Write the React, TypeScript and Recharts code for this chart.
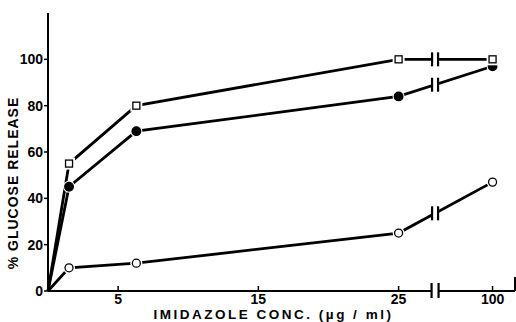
import React from "react";
import { LineChart, Line, XAxis, YAxis, ReferenceDot, ReferenceLine, Label } from "recharts";

// imidazole concentration (ug/ml) and % glucose release per series
const concentrations = [0, 1.5, 6.3, 25, 100];
const squareRelease = [0, 55, 80, 100, 100];
const filledRelease = [0, 45, 69, 84, 97];
const openRelease = [0, 10, 12, 25, 47];

const xTicks = [5, 15, 25, 100];
const yTicks = [0, 20, 40, 60, 80, 100];

// broken axis: 0-25 linear, then 100 placed after the break
const POS_100 = 31.7;
const BREAK_POS = 27.6;
const X_MAX = 33.3;
const xPos = (c: number) => (c <= 25 ? c : POS_100);

const FONT = "'Liberation Sans', Arial, sans-serif";

const data = concentrations.map((c, i) => ({
  pos: xPos(c),
  square: squareRelease[i],
  filled: filledRelease[i],
  open: openRelease[i],
}));

const atBreak = (arr: number[]) => {
  const n = arr.length;
  const x0 = xPos(concentrations[n - 2]);
  const x1 = xPos(concentrations[n - 1]);
  const t = (BREAK_POS - x0) / (x1 - x0);
  return arr[n - 2] + t * (arr[n - 1] - arr[n - 2]);
};

const makeDot = (kind: "square" | "filled" | "open") => (props: any) => {
  const { cx, cy, index } = props;
  if (index === 0 || cx == null) return <g key={`${kind}-${index}`} />;
  if (kind === "square") {
    return (
      <g key={`${kind}-${index}`}>
        <rect x={cx - 6} y={cy - 6} width={12} height={12} fill="#fff" />
        <rect x={cx - 3.5} y={cy - 3.5} width={7} height={7} fill="#fff" stroke="#000" strokeWidth={1.3} />
      </g>
    );
  }
  return (
    <g key={`${kind}-${index}`}>
      <circle cx={cx} cy={cy} r={6} fill="#fff" />
      <circle
        cx={cx}
        cy={cy}
        r={kind === "filled" ? 4.3 : 4}
        fill={kind === "filled" ? "#000" : "#fff"}
        stroke="#000"
        strokeWidth={1.3}
      />
    </g>
  );
};

const LineBreak = (props: any) => {
  const { cx, cy } = props;
  return (
    <g>
      <rect x={cx - 4} y={cy - 9} width={8} height={18} fill="#fff" />
      <line x1={cx - 3} x2={cx - 3} y1={cy - 7} y2={cy + 7} stroke="#000" strokeWidth={2.2} />
      <line x1={cx + 3} x2={cx + 3} y1={cy - 7} y2={cy + 7} stroke="#000" strokeWidth={2.2} />
    </g>
  );
};

const AxisBreak = (props: any) => {
  const { cx, cy } = props;
  return (
    <g>
      <rect x={cx - 3} y={cy - 3} width={6} height={6} fill="#fff" />
      <line x1={cx - 3.5} x2={cx - 3.5} y1={cy - 8} y2={cy + 7} stroke="#000" strokeWidth={2.2} />
      <line x1={cx + 3.5} x2={cx + 3.5} y1={cy - 8} y2={cy + 7} stroke="#000" strokeWidth={2.2} />
    </g>
  );
};

const XTick = (props: any) => {
  const { x, y, payload } = props;
  return (
    <g>
      <line x1={x} x2={x} y1={y} y2={y - 5} stroke="#000" strokeWidth={1.5} />
      <text x={x} y={y + 13} textAnchor="middle" fontFamily={FONT} fontWeight="bold" fontSize={14} fill="#000">
        {payload.value === POS_100 ? "100" : payload.value}
      </text>
    </g>
  );
};

export default function App() {
  return (
    <div style={{ position: "absolute", left: 0, top: 0, background: "#fff" }}>
      <LineChart width={516} height={322} data={data} margin={{ top: 13, right: 1, bottom: 0, left: 20 }}>
        <XAxis
          type="number"
          dataKey="pos"
          domain={[0, X_MAX]}
          ticks={xTicks.map(xPos)}
          tick={<XTick />}
          tickLine={false}
          tickSize={0}
          tickMargin={0}
          height={31}
          interval={0}
          axisLine={{ stroke: "#000", strokeWidth: 2 }}
        >
          <Label
            content={(p: any) => {
              const vb = p.viewBox;
              return (
                <text
                  x={vb.x + vb.width / 2 - 8}
                  y={vb.y + 28}
                  textAnchor="middle"
                  fontFamily={FONT}
                  fontWeight="bold"
                  fontSize={13.5}
                  letterSpacing={2.5}
                  fill="#000"
                >
                  IMIDAZOLE CONC.  (µg / ml)
                </text>
              );
            }}
          />
        </XAxis>
        <YAxis
          type="number"
          domain={[0, 120]}
          ticks={yTicks}
          width={28}
          tickSize={4}
          tickMargin={1}
          interval={0}
          axisLine={{ stroke: "#000", strokeWidth: 2 }}
          tickLine={{ stroke: "#000", strokeWidth: 1.5 }}
          tick={{ fill: "#000", fontFamily: FONT, fontWeight: "bold", fontSize: 14 }}
        >
          <Label
            content={(p: any) => {
              const vb = p.viewBox;
              const cy = vb.y + vb.height / 2 + 31;
              return (
                <text
                  x={18 - 20 + vb.x}
                  y={cy}
                  transform={`rotate(-90, ${18 - 20 + vb.x}, ${cy})`}
                  textAnchor="middle"
                  fontFamily={FONT}
                  fontWeight="bold"
                  fontSize={14}
                  letterSpacing={1}
                  fill="#000"
                >
                  % GLUCOSE RELEASE
                </text>
              );
            }}
          />
        </YAxis>
        <ReferenceLine
          segment={[{ x: X_MAX, y: 0 }, { x: X_MAX, y: 6 }]}
          stroke="#000"
          strokeWidth={2}
          ifOverflow="visible"
        />
        <Line dataKey="open" stroke="#000" strokeWidth={2.8} dot={makeDot("open")} isAnimationActive={false} />
        <Line dataKey="filled" stroke="#000" strokeWidth={2.8} dot={makeDot("filled")} isAnimationActive={false} />
        <Line dataKey="square" stroke="#000" strokeWidth={2.8} dot={makeDot("square")} isAnimationActive={false} />
        <ReferenceDot x={BREAK_POS} y={atBreak(openRelease)} shape={<LineBreak />} ifOverflow="visible" />
        <ReferenceDot x={BREAK_POS} y={atBreak(filledRelease)} shape={<LineBreak />} ifOverflow="visible" />
        <ReferenceDot x={BREAK_POS} y={atBreak(squareRelease)} shape={<LineBreak />} ifOverflow="visible" />
        <ReferenceDot x={BREAK_POS} y={0} shape={<AxisBreak />} ifOverflow="visible" />
      </LineChart>
    </div>
  );
}
